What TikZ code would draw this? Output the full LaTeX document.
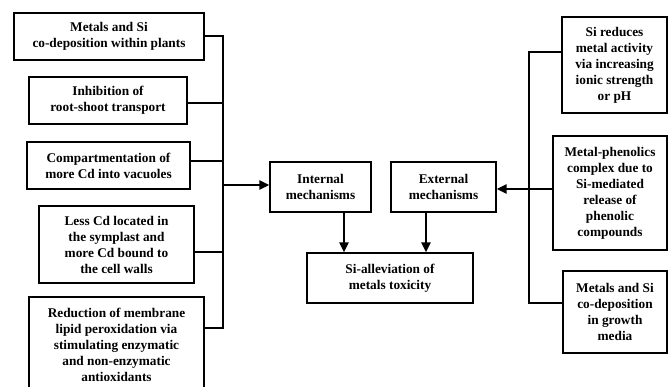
\documentclass[tikz,border=0pt]{standalone}
\usepackage{fontspec}
\setmainfont{Liberation Serif}
\usetikzlibrary{arrows.meta}
\begin{document}
\begin{tikzpicture}[x=1pt,y=-1pt,
  box/.style={draw, line width=1.3pt, align=center, inner sep=0pt,
    font=\fontsize{13.3}{16}\selectfont\bfseries},
  conn/.style={line width=1.4pt},
  arr/.style={line width=2.2pt, -{Triangle[length=10pt,width=9pt]}}]
\useasboundingbox (0,0) rectangle (668,386);
% left boxes
\node[box, minimum width=190pt, minimum height=47pt] (L1) at (109,36.5) {Metals and Si\\co-deposition within plants};
\node[box, minimum width=158pt, minimum height=47pt] (L2) at (108,100.5) {Inhibition of\\root-shoot transport};
\node[box, minimum width=163pt, minimum height=47pt] (L3) at (108.5,165.5) {Compartmentation of\\more Cd into vacuoles};
\node[box, minimum width=155pt, minimum height=77pt] (L4) at (116.5,244.5) {Less Cd located in\\the symplast and\\more Cd bound to\\the cell walls};
\node[box, minimum width=175pt, minimum height=96pt] (L5) at (116.5,345) {Reduction of membrane\\lipid peroxidation via\\stimulating enzymatic\\and non-enzymatic\\antioxidants};
% centre boxes
\node[box, minimum width=101pt, minimum height=50pt] (IM) at (320.5,187) {Internal\\mechanisms};
\node[box, minimum width=105pt, minimum height=50pt] (EM) at (443.5,187) {External\\mechanisms};
\node[box, minimum width=166pt, minimum height=50pt] (SA) at (390,278) {Si-alleviation of\\metals toxicity};
% right boxes
\node[box, minimum width=105pt, minimum height=96pt] (R1) at (614.5,65) {Si reduces\\metal activity\\via increasing\\ionic strength\\or pH};
\node[box, minimum width=114pt, minimum height=114pt] (R2) at (610,193) {Metal-phenolics\\complex due to\\Si-mediated\\release of\\phenolic\\compounds};
\node[box, minimum width=104pt, minimum height=82pt] (R3) at (615,312) {Metals and Si\\co-deposition\\in growth\\media};
% left bus
\coordinate (b1) at (223,36);
\coordinate (b5) at (223,328);
\draw[conn] (L1.east |- b1) -- (b1) -- (b5) -- (L5.east |- b5);
\draw[conn] (L2.east |- 0,103) -- (b1 |- 0,103);
\draw[conn] (L3.east |- 0,161) -- (b1 |- 0,161);
\draw[conn] (L4.east |- 0,252) -- (b1 |- 0,252);
\draw[arr] (b1 |- 0,185) -- (IM.west |- 0,185);
% down arrows
\draw[arr] (IM.south -| 344,0) -- (SA.north -| 344,0);
\draw[arr] (EM.south -| 426,0) -- (SA.north -| 426,0);
% right bus
\coordinate (c1) at (529,52);
\coordinate (c3) at (529,303);
\draw[conn] (R1.west |- c1) -- (c1) -- (c3) -- (R3.west |- c3);
\draw[arr] (R2.west |- 0,189) -- (EM.east |- 0,189);
\end{tikzpicture}
\end{document}
